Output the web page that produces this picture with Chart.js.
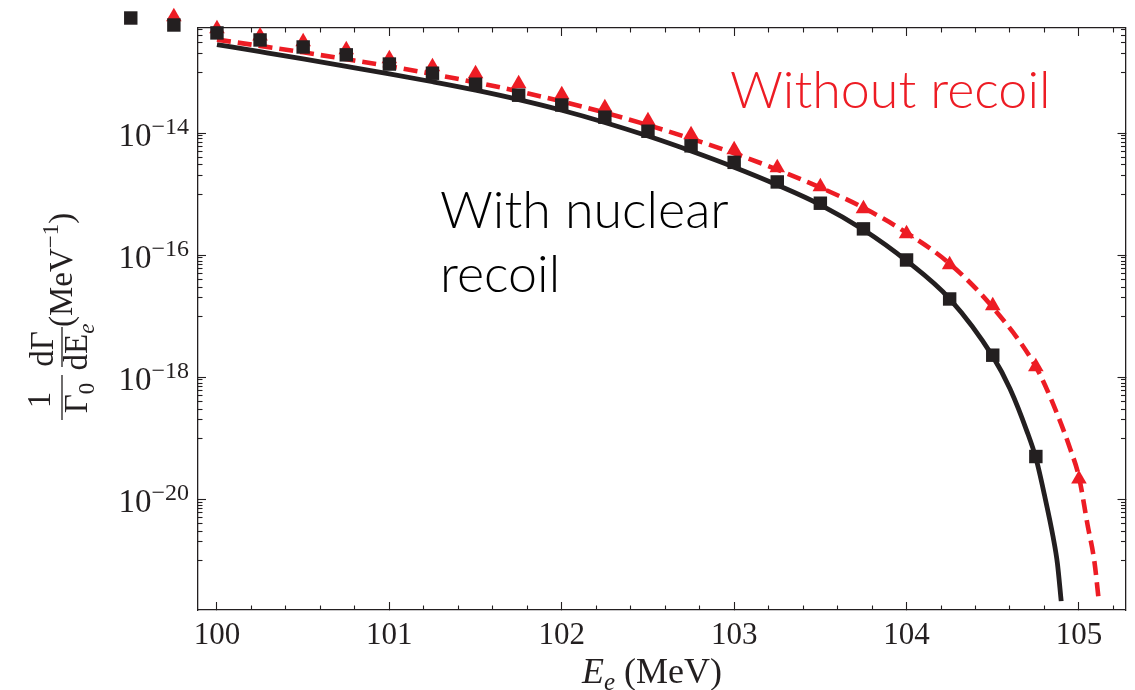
<!DOCTYPE html>
<html>
<head>
<meta charset="utf-8">
<script src="https://cdn.jsdelivr.net/npm/chart.js@4.4.1/dist/chart.umd.min.js"></script>
<style>
  html, body { margin: 0; padding: 0; background: #ffffff; }
  #wrap { width: 1135px; height: 690px; position: relative; }
  canvas { display: block; }
</style>
</head>
<body>
<div id="wrap"><canvas id="spectrum" width="1135" height="690"></canvas></div>
<script>
// Electron energy spectrum near the endpoint, with and without nuclear recoil.

// Solid curve: with nuclear recoil (E_e in MeV, rate in MeV^-1)
const curveEnergyRecoil = [100, 100.25, 100.5, 100.75, 101, 101.25, 101.5, 101.75, 102, 102.25,
  102.5, 102.75, 103, 103.25, 103.5, 103.75, 104, 104.25, 104.5, 104.6, 104.7, 104.75, 104.8,
  104.85, 104.875, 104.897];
const curveRateRecoil = [2.81e-13, 2.15e-13, 1.64e-13, 1.24e-13, 9.33e-14, 6.92e-14, 5.04e-14,
  3.53e-14, 2.36e-14, 1.49e-14, 8.91e-15, 5.06e-15, 2.75e-15, 1.41e-15, 6.68e-16, 2.60e-16,
  8.07e-17, 1.92e-17, 2.19e-18, 6.46e-19, 1.26e-19, 4.75e-20, 1.17e-20, 2.41e-21, 8.9e-22, 2.14e-22];

// Dashed curve: without recoil
const curveEnergyFree = [100, 100.25, 100.5, 100.75, 101, 101.25, 101.5, 101.75, 102, 102.25,
  102.5, 102.75, 103, 103.25, 103.5, 103.75, 104, 104.25, 104.5, 104.75, 104.85, 104.95, 105,
  105.05, 105.09, 105.115];
const curveRateFree = [3.39e-13, 2.68e-13, 2.10e-13, 1.62e-13, 1.24e-13, 9.25e-14, 6.76e-14,
  4.81e-14, 3.30e-14, 2.16e-14, 1.35e-14, 8.09e-15, 4.66e-15, 2.52e-15, 1.28e-15, 5.96e-16,
  2.32e-16, 7.24e-17, 1.39e-17, 1.48e-18, 3.65e-19, 6.6e-20, 2.32e-20, 3.80e-21, 9.33e-22, 2.19e-22];

// Computed points, with recoil (squares)
const pointEnergyRecoil = [99.5, 99.75, 100, 100.25, 100.5, 100.75, 101, 101.25, 101.5, 101.75,
  102, 102.25, 102.5, 102.75, 103, 103.25, 103.5, 103.75, 104, 104.25, 104.5, 104.75];
const pointRateRecoil = [7.67e-13, 5.89e-13, 4.37e-13, 3.35e-13, 2.57e-13, 1.91e-13, 1.35e-13,
  9.55e-14, 6.31e-14, 4.17e-14, 2.88e-14, 1.82e-14, 1.07e-14, 6.17e-15, 3.31e-15, 1.58e-15,
  7.08e-16, 2.69e-16, 8.32e-17, 1.91e-17, 2.29e-18, 5.01e-20];

// Computed points, without recoil (triangles)
const pointEnergyFree = [99.75, 100, 100.25, 100.5, 100.75, 101, 101.25, 101.5, 101.75, 102,
  102.25, 102.5, 102.75, 103, 103.25, 103.5, 103.75, 104, 104.25, 104.5, 104.75, 105];
const pointRateFree = [8.07e-13, 5.13e-13, 3.89e-13, 3.14e-13, 2.32e-13, 1.65e-13, 1.22e-13,
  9.38e-14, 6.43e-14, 4.25e-14, 2.60e-14, 1.59e-14, 9.38e-15, 5.32e-15, 2.70e-15, 1.32e-15,
  5.74e-16, 2.23e-16, 6.93e-17, 1.48e-17, 1.48e-18, 2.15e-20];

// Axis ticks
const xMajorTicks = [100, 101, 102, 103, 104, 105];
const xMinorTicks = [100.2, 100.4, 100.6, 100.8, 101.2, 101.4, 101.6, 101.8, 102.2, 102.4, 102.6,
  102.8, 103.2, 103.4, 103.6, 103.8, 104.2, 104.4, 104.6, 104.8, 105.2];
const yMajorTicks = [1e-14, 1e-16, 1e-18, 1e-20];
const yMinorDecades = [-13, -15, -17, -19, -21];
const yMinorSteps = [1, 2, 3, 4, 5, 6, 7, 8, 9];

const X_RANGE = [99.89, 105.27];
const Y_RANGE = [Math.pow(10, -21.815), Math.pow(10, -12.279)];

const INK = '#231f20';
const RED = '#ed1c24';
const SERIF = '"Liberation Serif", "Times New Roman", serif';
const LABEL_FONT = 'Lato, "Open Sans", sans-serif';

const yMinorTicks = [];
yMinorDecades.forEach(d => yMinorSteps.forEach(s => {
  const v = Number((s + 'e' + d));
  if (v > Y_RANGE[0] && v < Y_RANGE[1]) yMinorTicks.push(v);
}));

function toPoints(xs, ys) { return xs.map((x, i) => ({ x: x, y: ys[i] })); }

function fixRange(range) {
  return function (scale) { scale.min = range[0]; scale.max = range[1]; };
}
function useTicks(list) {
  return function (scale) { scale.ticks = list.map(v => ({ value: v })); };
}
function frameAxis(opts) {
  // One side of the frame: inward tick marks, optional border, no grid lines
  const horizontal = opts.position === 'top' || opts.position === 'bottom';
  return {
    type: opts.type,
    position: opts.position,
    bounds: 'data',
    weight: opts.weight || 0,
    afterDataLimits: fixRange(horizontal ? X_RANGE : Y_RANGE),
    afterBuildTicks: useTicks(opts.ticks),
    afterFit: function (scale) {
      if (horizontal) scale.height = opts.size || 0; else scale.width = opts.size || 0;
    },
    grid: {
      drawOnChartArea: false,
      drawTicks: true,
      tickLength: -opts.tick,
      tickColor: INK,
      tickWidth: 1.1
    },
    border: { display: !!opts.border, color: INK, width: 1.3 },
    ticks: opts.labels || { display: false }
  };
}

const scales = {
  x: frameAxis({ type: 'linear', position: 'bottom', ticks: xMajorTicks, tick: 8, border: true, size: 80, weight: 1,
    labels: { display: true, autoSkip: false, maxRotation: 0, padding: 15, color: INK,
      font: { family: SERIF, size: 31 }, callback: v => String(v) } }),
  xMinor: frameAxis({ type: 'linear', position: 'bottom', ticks: xMinorTicks, tick: 4.5 }),
  xTop: frameAxis({ type: 'linear', position: 'top', ticks: xMajorTicks, tick: 8, border: true }),
  xTopMinor: frameAxis({ type: 'linear', position: 'top', ticks: xMinorTicks, tick: 4.5 }),
  y: frameAxis({ type: 'logarithmic', position: 'left', ticks: yMajorTicks, tick: 8, border: true, size: 198, weight: 1 }),
  yMinor: frameAxis({ type: 'logarithmic', position: 'left', ticks: yMinorTicks, tick: 4.5 }),
  yRight: frameAxis({ type: 'logarithmic', position: 'right', ticks: yMajorTicks, tick: 8, border: true }),
  yRightMinor: frameAxis({ type: 'logarithmic', position: 'right', ticks: yMinorTicks, tick: 4.5 })
};

// Markers that sit beyond the frame are still drawn, as in the original figure
const markersBeyondFrame = {
  id: 'markersBeyondFrame',
  afterDatasetsDraw(chart) {
    const area = chart.chartArea;
    const whole = { left: 0, top: 0, right: chart.width, bottom: chart.height };
    const ctx = chart.ctx;
    [2, 3].forEach(index => {
      const meta = chart.getDatasetMeta(index);
      meta.data.forEach(el => {
        const m = el.size() / 2;
        const inside = el.x > area.left - m && el.x < area.right + m &&
                       el.y > area.top - m && el.y < area.bottom + m;
        if (!inside) el.draw(ctx, whole);
      });
    });
  }
};

// Power-of-ten labels on the left axis, drawn at the scale's tick positions
const powerLabels = {
  id: 'powerLabels',
  afterDraw(chart) {
    const sc = chart.scales.y;
    const ctx = chart.ctx;
    ctx.save();
    ctx.fillStyle = INK;
    ctx.textBaseline = 'alphabetic';
    ctx.textAlign = 'left';
    yMajorTicks.forEach(v => {
      const py = sc.getPixelForValue(v);
      const exp = Math.round(Math.log10(v));
      const base = '10';
      const sup = (exp < 0 ? '\u2212' : '') + Math.abs(exp);
      ctx.font = '33px ' + SERIF;
      const wb = ctx.measureText(base).width;
      ctx.font = '24px ' + SERIF;
      const ws = ctx.measureText(sup).width;
      const x0 = sc.right - 9 - wb - ws;
      ctx.font = '33px ' + SERIF;
      ctx.fillText(base, x0, py + 13);
      ctx.font = '24px ' + SERIF;
      ctx.fillText(sup, x0 + wb, py + 1);
    });
    ctx.restore();
  }
};

// Axis titles: E_e (MeV) and (1/Γ0)(dΓ/dE_e)(MeV^-1)
const axisTitles = {
  id: 'axisTitles',
  afterDraw(chart) {
    const ctx = chart.ctx;
    ctx.save();
    ctx.fillStyle = INK;
    ctx.strokeStyle = INK;
    ctx.textBaseline = 'alphabetic';

    // x title
    const pieces = [
      { t: 'E', f: 'italic 36px ' + SERIF, dy: 0 },
      { t: 'e', f: 'italic 25px ' + SERIF, dy: 7 },
      { t: ' (MeV)', f: '36px ' + SERIF, dy: 0 }
    ];
    let cx = 582;
    const by = 683;
    pieces.forEach(p => { ctx.font = p.f; ctx.fillText(p.t, cx, by + p.dy); cx += ctx.measureText(p.t).width; });

    // y title, rotated
    ctx.translate(62, 420);
    ctx.rotate(-Math.PI / 2);
    ctx.lineWidth = 1.3;
    const centerText = (parts, uc, v) => {
      let w = 0;
      parts.forEach(p => { ctx.font = p.f; p.w = ctx.measureText(p.t).width; w += p.w; });
      let u = uc - w / 2;
      parts.forEach(p => { ctx.font = p.f; ctx.fillText(p.t, u, v + (p.dy || 0)); u += p.w; });
    };
    // 1 / Γ0
    ctx.beginPath(); ctx.moveTo(0, 0); ctx.lineTo(45, 0); ctx.stroke();
    centerText([{ t: '1', f: '33px ' + SERIF }], 20, -12);
    centerText([{ t: '\u0393', f: '33px ' + SERIF }, { t: '0', f: '23px ' + SERIF, dy: 7 }], 22, 25);
    // dΓ / dE_e
    ctx.beginPath(); ctx.moveTo(53, 0); ctx.lineTo(93, 0); ctx.stroke();
    centerText([{ t: 'd\u0393', f: '33px ' + SERIF }], 71, -9);
    centerText([{ t: 'dE', f: '33px ' + SERIF }, { t: 'e', f: 'italic 23px ' + SERIF, dy: 7 }], 73, 25);
    // (MeV^-1)
    let u = 93;
    const unit = [
      { t: '(MeV', f: '33px ' + SERIF, dy: 0 },
      { t: '\u22121', f: '23px ' + SERIF, dy: -14 },
      { t: ')', f: '33px ' + SERIF, dy: 0 }
    ];
    unit.forEach(p => { ctx.font = p.f; ctx.fillText(p.t, u, 10 + p.dy); u += ctx.measureText(p.t).width; });
    ctx.restore();
  }
};

// Curve annotations
const annotations = {
  id: 'annotations',
  afterDraw(chart) {
    const ctx = chart.ctx;
    ctx.save();
    ctx.textBaseline = 'alphabetic';
    ctx.textAlign = 'left';
    ctx.font = '300 52px ' + LABEL_FONT;
    ctx.fillStyle = RED;
    ctx.fillText('Without recoil', 730, 108);
    ctx.fillStyle = '#000000';
    ctx.fillText('With nuclear', 440, 228);
    ctx.fillText('recoil', 440, 292);
    ctx.restore();
  }
};

new Chart(document.getElementById('spectrum'), {
  type: 'scatter',
  data: {
    datasets: [
      {
        label: 'With nuclear recoil',
        data: toPoints(curveEnergyRecoil, curveRateRecoil),
        showLine: true, borderColor: INK, borderWidth: 4.8, pointRadius: 0,
        cubicInterpolationMode: 'monotone', order: 3, clip: false
      },
      {
        label: 'Without recoil',
        data: toPoints(curveEnergyFree, curveRateFree),
        showLine: true, borderColor: RED, borderWidth: 4.6, borderDash: [14, 7], pointRadius: 0,
        cubicInterpolationMode: 'monotone', order: 2, clip: false
      },
      {
        label: 'Without recoil (points)',
        data: toPoints(pointEnergyFree, pointRateFree),
        pointStyle: 'triangle', pointRadius: 9, backgroundColor: RED, borderColor: RED, borderWidth: 0,
        order: 1, clip: false
      },
      {
        label: 'With nuclear recoil (points)',
        data: toPoints(pointEnergyRecoil, pointRateRecoil),
        pointStyle: 'rect', pointRadius: 9.5, backgroundColor: INK, borderColor: INK, borderWidth: 0,
        order: 0, clip: false
      }
    ]
  },
  options: {
    responsive: false,
    animation: false,
    devicePixelRatio: 1,
    events: [],
    layout: { padding: { top: 28, right: 1, bottom: 0, left: 0 } },
    plugins: { legend: { display: false }, tooltip: { enabled: false } },
    scales: scales
  },
  plugins: [markersBeyondFrame, powerLabels, axisTitles, annotations]
});
</script>
</body>
</html>
